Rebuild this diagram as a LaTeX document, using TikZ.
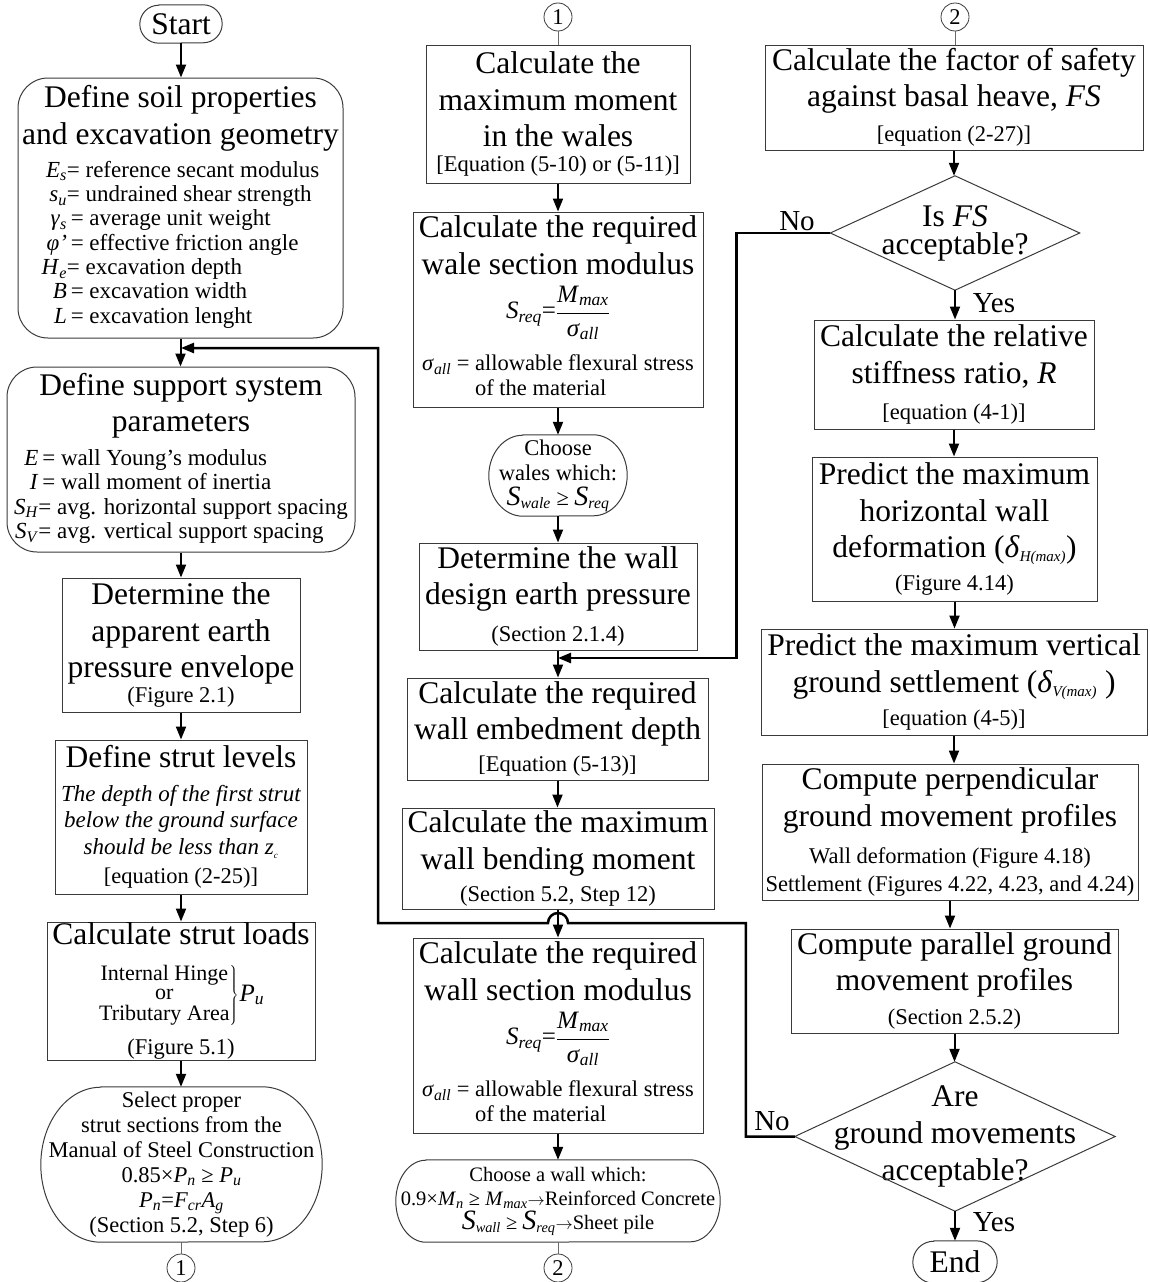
\documentclass[tikz,border=0pt]{standalone}
\usepackage{fontspec}
\setmainfont{Liberation Serif}
\usetikzlibrary{arrows.meta}
\definecolor{boxc}{HTML}{3A3A3A}
\definecolor{glc}{HTML}{6A6A6A}
\newcommand\wsp{\spaceskip=.25em plus .05em minus .03em\relax}
\newcommand\fBig{\fontsize{31.5}{36.5}\selectfont\wsp}
\newcommand\fSm{\fontsize{22.5}{25}\selectfont\wsp}
\newcommand\fVar{\fontsize{23}{24.3}\selectfont\wsp}
\newcommand\fIt{\fontsize{23}{26.5}\selectfont\wsp}
\newcommand\fFr{\fontsize{25}{30}\selectfont\wsp}
\newcommand\sbs[1]{\textsubscript{\textit{#1}}}
\newcommand\bS{{\fontsize{28}{25}\selectfont\textit{S}}}
\newcommand\smarr{{\fontsize{17}{17}\selectfont$\rightarrow$}}
\newcommand\termin[3]{\draw[shp] ([xshift=#2]#1.north west) -- ([xshift=-#2]#1.north east) arc[start angle=90,end angle=-90,x radius=#2,y radius=#3] -- ([xshift=#2]#1.south west) arc[start angle=270,end angle=90,x radius=#2,y radius=#3] -- cycle;}
\newcommand\vconn[3][arr]{\draw[#1] (#2.south) -- (#2.south |- #3.north);}
\begin{document}
\begin{tikzpicture}[x=1pt,y=1pt,
 box/.style={draw=boxc,line width=1pt,inner sep=0pt,align=flush center},
 plain/.style={inner sep=0pt,align=flush center},
 arr/.style={line width=2pt,-{Triangle[length=13pt,width=10pt]}},
 fbarr/.style={line width=2.5pt,-{Triangle[length=13pt,width=10pt]}},
 gline/.style={draw=glc,line width=1pt},
 circ/.style={circle,draw=boxc,line width=0.8pt,minimum size=28pt,inner sep=0pt,font=\fSm},
 shp/.style={draw=boxc,line width=1pt},
 lab/.style={font=\fontsize{29}{30}\selectfont,inner sep=0pt}
]
\useasboundingbox (0,0) rectangle (1150,-1282);

% ---------- column 1 ----------
\node[plain,minimum width=82,minimum height=38,font=\fBig] (start) at (181,-24) {Start};
\termin{start}{19}{19}

\node[box,rounded corners=30pt,text width=325,minimum height=260] (soil) at (180.5,-208) {%
{\fBig Define soil properties\\and excavation geometry\par}\vspace{8pt}%
{\fVar\begin{tabular}{@{}r@{}l@{}}
\textit{E}\sbs{s}&= reference secant modulus\\
\textit{s}\sbs{u}&= undrained shear strength\\
\textit{γ}\sbs{s}&\,= average unit weight\\
\textit{φ'}&\,= effective friction angle\\
\textit{H}\sbs{e}&= excavation depth\\
\textit{B}&\,= excavation width\\
\textit{L}&\,= excavation lenght
\end{tabular}\par}};

\node[box,rounded corners=30pt,text width=348,minimum height=185] (support) at (181,-459.5) {%
{\fBig Define support system\\parameters\par}\vspace{9pt}%
{\fVar\begin{tabular}{@{}r@{}l@{}}
\textit{E}&\,= wall Young's modulus\\
\textit{I}&\,= wall moment of inertia\\
\textit{S}\sbs{H}&= avg. horizontal support spacing\\
\textit{S}\sbs{V}&= avg. vertical support spacing
\end{tabular}\par}};

\node[box,text width=238,minimum height=134] (env) at (181,-645) {%
{\fBig Determine the\\apparent earth\\pressure envelope\par}{\fSm (Figure 2.1)\par}};

\node[box,text width=252,minimum height=154] (lev) at (181,-817) {%
{\fBig Define strut levels\par}\vspace{7pt}%
{\fIt\itshape The depth of the first strut\\below the ground surface\\should be less than \textit{z}\textsubscript{\fontsize{9}{9}\selectfont c}\par}\vspace{4pt}%
{\fSm [equation (2-25)]\par}};

\node[box,text width=268,minimum height=138] (loads) at (181,-991) {%
{\fBig Calculate strut loads\par}\vspace{19pt}%
{\fontsize{22}{19.5}\selectfont\wsp$\left.\begin{tabular}{@{}c@{}}Internal Hinge\\or\\Tributary Area\end{tabular}\right\}$\kern1pt{\fontsize{25}{25}\selectfont\textit{P}\sbs{u}}\par}\vspace{11pt}%
{\fSm (Figure 5.1)\par}};

\node[plain,text width=281,minimum height=155] (sel) at (181.5,-1164.5) {%
{\fSm Select proper\\strut sections from the\\Manual of Steel Construction\\0.85×\textit{P}\sbs{n} ≥ \textit{P}\sbs{u}\\\textit{P}\sbs{n}=\textit{F}\sbs{cr}\textit{A}\sbs{g}\\(Section 5.2, Step 6)\par}};
\termin{sel}{60}{77.5}

\node[circ] (c1b) at (181,-1268) {1};

% ---------- column 2 ----------
\node[circ] (c1a) at (558,-17) {1};

\node[box,text width=264,minimum height=138] (maxmom) at (558,-114) {%
{\fBig Calculate the\\maximum moment\\in the wales\par}{\fSm [Equation (5-10) or (5-11)]\par}};

\node[box,text width=290,minimum height=195] (walemod) at (558,-309.5) {%
{\fBig Calculate the required\\wale section modulus\par}\vspace{10pt}%
{\fFr\textit{S}\sbs{req}=$\displaystyle\frac{\mbox{\fFr\textit{M}\sbs{max}}}{\mbox{\fFr\textit{σ}\sbs{all}}}$\par}\vspace{12pt}%
{\fSm\begin{tabular}{@{}r@{ }l@{}}\textit{σ}\sbs{all} =& allowable flexural stress\\ & of the material\end{tabular}\par}};

\node[plain,text width=138,minimum height=81] (chw) at (558,-475.5) {%
{\fSm Choose\\wales which:\\\bS\sbs{wale} ≥ \bS\sbs{req}\par}};
\termin{chw}{34}{40.5}

\node[box,text width=278,minimum height=107] (design) at (558,-596.5) {%
{\fBig Determine the wall\\design earth pressure\par}\vspace{12pt}{\fSm (Section 2.1.4)\par}};

\node[box,text width=301,minimum height=102] (embed) at (557.5,-729) {%
{\fBig Calculate the required\\wall embedment depth\par}\vspace{7pt}{\fSm [Equation (5-13)]\par}};

\node[box,text width=312,minimum height=101] (bend) at (558,-858.5) {%
{\fBig Calculate the maximum\\wall bending moment\par}\vspace{7pt}{\fSm (Section 5.2, Step 12)\par}};

\node[box,text width=290,minimum height=195] (wallmod) at (558,-1035.5) {%
{\fBig Calculate the required\\wall section modulus\par}\vspace{10pt}%
{\fFr\textit{S}\sbs{req}=$\displaystyle\frac{\mbox{\fFr\textit{M}\sbs{max}}}{\mbox{\fFr\textit{σ}\sbs{all}}}$\par}\vspace{12pt}%
{\fSm\begin{tabular}{@{}r@{ }l@{}}\textit{σ}\sbs{all} =& allowable flexural stress\\ & of the material\end{tabular}\par}};

\node[plain,text width=324,minimum height=82] (chwall) at (558,-1201) {%
{\fontsize{20.5}{24}\selectfont\wsp Choose a wall which:\\0.9×\textit{M}\sbs{n} ≥ \textit{M}\sbs{max}\smarr Reinforced Concrete\\\bS\sbs{wall} ≥ \bS\sbs{req}\smarr Sheet pile\par}};
\termin{chwall}{30}{41}

\node[circ] (c2b) at (558,-1268) {2};

% ---------- column 3 ----------
\node[circ] (c2a) at (955,-17) {2};

\node[box,text width=378,minimum height=105] (fs) at (954,-97.5) {%
{\fBig Calculate the factor of safety\\against basal heave, \textit{FS}\par}\vspace{10pt}{\fSm [equation (2-27)]\par}};

\node[plain,minimum width=249,minimum height=114,font=\fontsize{31.5}{28}\selectfont\wsp] (d1) at (955,-233) {Is \textit{FS}\\acceptable?};
\draw[shp] (d1.north) -- (d1.east) -- (d1.south) -- (d1.west) -- cycle;

\node[box,text width=280,minimum height=109] (stiff) at (954,-374.5) {%
{\fBig Calculate the relative\\stiffness ratio, \textit{R}\par}\vspace{11pt}{\fSm [equation (4-1)]\par}};

\node[box,text width=285,minimum height=144] (deform) at (954.5,-529) {%
{\fBig Predict the maximum\\horizontal wall\\deformation (\textit{δ}\textsubscript{\fontsize{15}{15}\selectfont\itshape H(max)})\par}\vspace{8pt}{\fSm (Figure 4.14)\par}};

\node[box,text width=386,minimum height=106] (settle) at (954,-682) {%
{\fBig Predict the maximum vertical\\ground settlement (\textit{δ}\textsubscript{\fontsize{15}{15}\selectfont\itshape V(max)} )\par}\vspace{8pt}{\fSm [equation (4-5)]\par}};

\node[box,text width=376,minimum height=136] (perp) at (950,-832) {%
{\fBig Compute perpendicular\\ground movement profiles\par}\vspace{9pt}{\fontsize{22.5}{28}\selectfont\wsp Wall deformation (Figure 4.18)\\Settlement (Figures 4.22, 4.23, and 4.24)\par}};

\node[box,text width=327,minimum height=104] (par) at (954.5,-981) {%
{\fBig Compute parallel ground\\movement profiles\par}\vspace{9pt}{\fSm (Section 2.5.2)\par}};

\node[plain,minimum width=320,minimum height=149,font=\fontsize{31.5}{37}\selectfont\wsp] (d2) at (955,-1136.5) {Are\\ground movements\\acceptable?};
\draw[shp] (d2.north) -- (d2.east) -- (d2.south) -- (d2.west) -- cycle;

\node[plain,minimum width=84,minimum height=42,font=\fBig] (stop) at (955,-1262) {End};
\termin{stop}{21}{21}

% labels
\node[lab] (no1) at (797,-221) {No};
\node[lab] (yes1) at (994,-303) {Yes};
\node[lab] (no2) at (772,-1121) {No};
\node[lab] (yes2) at (994,-1222) {Yes};

% ---------- connectors ----------
\coordinate (m1) at (181,-348);
\coordinate (m2) at (558,-658);

\vconn{start}{soil}
\vconn{soil}{support}
\vconn{support}{env}
\vconn{env}{lev}
\vconn{lev}{loads}
\vconn{loads}{sel}
\vconn[gline]{sel}{c1b}

\vconn[gline]{c1a}{maxmom}
\vconn{maxmom}{walemod}
\vconn{walemod}{chw}
\vconn{chw}{design}
\vconn{design}{embed}
\vconn{embed}{bend}
\vconn{bend}{wallmod}
\vconn{wallmod}{chwall}
\vconn[gline]{chwall}{c2b}

\vconn[gline]{c2a}{fs}
\vconn{fs}{d1}
\vconn{d1}{stiff}
\vconn{stiff}{deform}
\vconn{deform}{settle}
\vconn{settle}{perp}
\vconn{perp}{par}
\vconn{par}{d2}
\vconn{d2}{stop}

\draw[fbarr] (d1.west) -- ++(-94,0) |- (m2);
\draw[fbarr] (d2.west) -- ++(-49,0) |- (568,-923) arc[start angle=0,end angle=180,radius=10] -- (378,-923) |- (m1);
\end{tikzpicture}
\end{document}
